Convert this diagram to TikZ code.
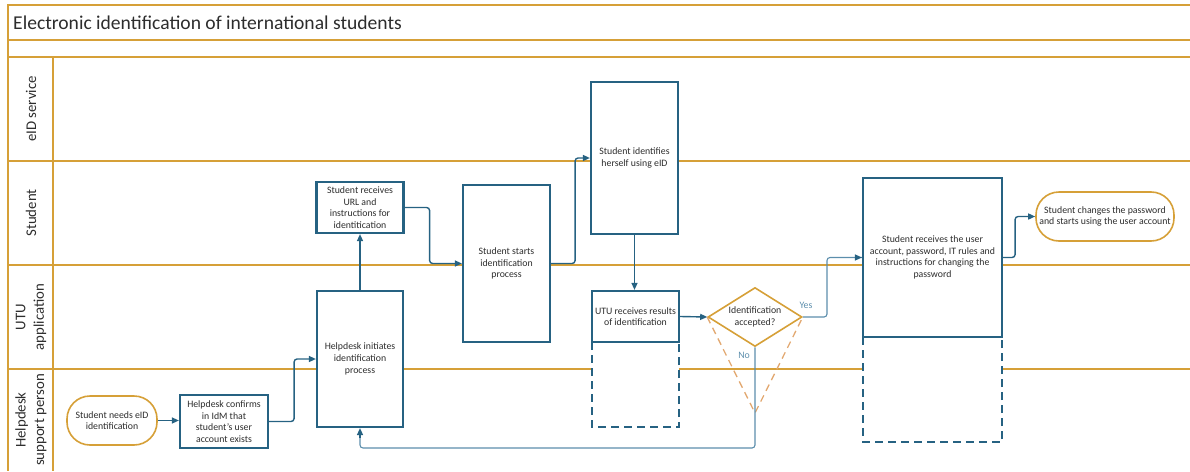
\documentclass[tikz,border=0pt]{standalone}
\usepackage{fontspec}
\setmainfont{Carlito}
\usetikzlibrary{shapes.geometric,arrows.meta}
\definecolor{gold}{RGB}{214,160,56}
\definecolor{boxblue}{RGB}{38,98,130}
\definecolor{thinblue}{RGB}{92,142,172}
\definecolor{lightorange}{RGB}{226,168,112}
\definecolor{txt}{RGB}{45,45,45}
\tikzset{
  laneline/.style={draw=gold,line width=2.4pt},
  stepbox/.style={draw=boxblue,line width=2.2pt,fill=white,align=center,
    font=\fontsize{9.8}{11.7}\selectfont,text=txt,inner sep=1pt},
  terminal/.style={draw=gold,line width=1.6pt,fill=white,rounded corners=23pt,
    align=center,font=\fontsize{9.8}{11.7}\selectfont,text=txt,inner sep=1pt},
  decision/.style={diamond,aspect=1.6,draw=gold,line width=1.6pt,fill=white,align=center,
    font=\fontsize{9.8}{11.7}\selectfont,text=txt,inner sep=-1.5pt},
  flow/.style={draw=boxblue,line width=1.4pt,rounded corners=3pt,
    -{Triangle[length=7pt,width=6pt]}},
  thinflow/.style={draw=thinblue,line width=1.1pt,rounded corners=3pt},
  extbox/.style={draw=boxblue,line width=2pt,dash pattern=on 8pt off 5pt,fill=white},
  lanelabel/.style={rotate=90,align=center,font=\fontsize{14.8}{18.5}\selectfont,text=txt},
  branchlabel/.style={font=\fontsize{9.8}{11}\selectfont,text=thinblue}
}
\begin{document}
\begin{tikzpicture}[x=1pt,y=-1pt]
\useasboundingbox (0,0) rectangle (1190,471);
% frame and lanes
\draw[laneline] (1190,5) -- (8,5) -- (8,471);
\draw[laneline] (8,40) -- (1190,40);
\draw[laneline] (8,57) -- (1190,57);
\draw[laneline] (8,161) -- (1190,161);
\draw[laneline] (8,265) -- (1190,265);
\draw[laneline] (8,369) -- (1190,369);
\draw[laneline] (53,57) -- (53,471);
\node[anchor=west,font=\fontsize{19.6}{22}\selectfont,text=txt,inner sep=0pt] (title) at (13,22.5) {Electronic identification of international students};
\node[lanelabel] (l1) at (31,109) {eID service};
\node[lanelabel] (l2) at (31,213) {Student};
\node[lanelabel] (l3) at (31,317) {UTU\\application};
\node[lanelabel] (l4) at (31,420) {Helpdesk\\support person};
% dashed extensions
\coordinate (u1) at (592,342); \coordinate (u2) at (592,427);
\coordinate (u3) at (679,427); \coordinate (u4) at (679,342);
\filldraw[extbox] (u1) -- (u2) -- (u3) -- (u4);
\coordinate (r1) at (863,337); \coordinate (r2) at (863,442);
\coordinate (r3) at (1002,442); \coordinate (r4) at (1002,337);
\filldraw[extbox] (r1) -- (r2) -- (r3) -- (r4);
% nodes
\node[terminal,minimum width=90pt,minimum height=49pt] (needs) at (112,420.5) {Student needs eID\\identification};
\node[stepbox,minimum width=88pt,minimum height=53pt] (confirm) at (224,421.5) {Helpdesk confirms\\in IdM that\\student's user\\account exists};
\node[stepbox,minimum width=86pt,minimum height=136pt] (init) at (360,359) {Helpdesk initiates\\identification\\process};
\node[stepbox,minimum width=87pt,minimum height=51pt] (url) at (360,207.5) {Student receives\\URL and\\instructions for\\identitication};
\node[stepbox,minimum width=87pt,minimum height=157pt] (starts) at (506.5,263.5) {Student starts\\identification\\process};
\node[stepbox,minimum width=87pt,minimum height=152pt] (eid) at (634.5,158) {Student identifies\\herself using eID};
\node[stepbox,minimum width=87pt,minimum height=51pt] (utu) at (635.5,316.5) {UTU receives results\\of identification};
\node[decision,minimum width=94pt,minimum height=59pt] (dec) at (755,317) {Identification\\accepted?};
\node[stepbox,minimum width=139pt,minimum height=159pt] (recv) at (932.5,257.5) {Student receives the user\\account, password, IT rules and\\instructions for changing the\\password};
\node[terminal,minimum width=138pt,minimum height=49pt] (chg) at (1105,216.5) {Student changes the password\\and starts using the user account};
% dashed triangle
\coordinate (tip) at (755,413);
\draw[lightorange,line width=1.3pt,dash pattern=on 7pt off 5pt] (dec.west) -- (tip) -- (dec.east);
% connectors
\draw[flow] (needs.east) -- (confirm.west |- needs.east);
\draw[flow] (confirm.east) -- ++(25,0) |- (init.west);
\draw[flow] (init.north) -- (init.north |- url.south);
\draw[flow] (url.east) -- ++(25,0) |- (starts.west);
\draw[flow] (starts.east) -- ++(24,0) |- (eid.west);
\draw[flow] (eid.south) -- (eid.south |- utu.north);
\draw[flow] (utu.east) -- (dec.west);
\coordinate (yesc) at (827,317);
\draw[thinflow] (dec.east) -- (yesc) |- (recv.west);
\draw[flow] ([xshift=-6pt]recv.west) -- (recv.west);
\coordinate (noc) at (755,448);
\draw[thinflow] (dec.south) -- (noc) -| ([yshift=-9pt]init.south);
\draw[flow] ([yshift=-10pt]init.south) -- (init.south);
\draw[flow] (recv.east) -- ++(12,0) |- (chg.west);
\node[branchlabel] (yes) at (806,305) {Yes};
\node[branchlabel] (no) at (744,355) {No};
\end{tikzpicture}
\end{document}
